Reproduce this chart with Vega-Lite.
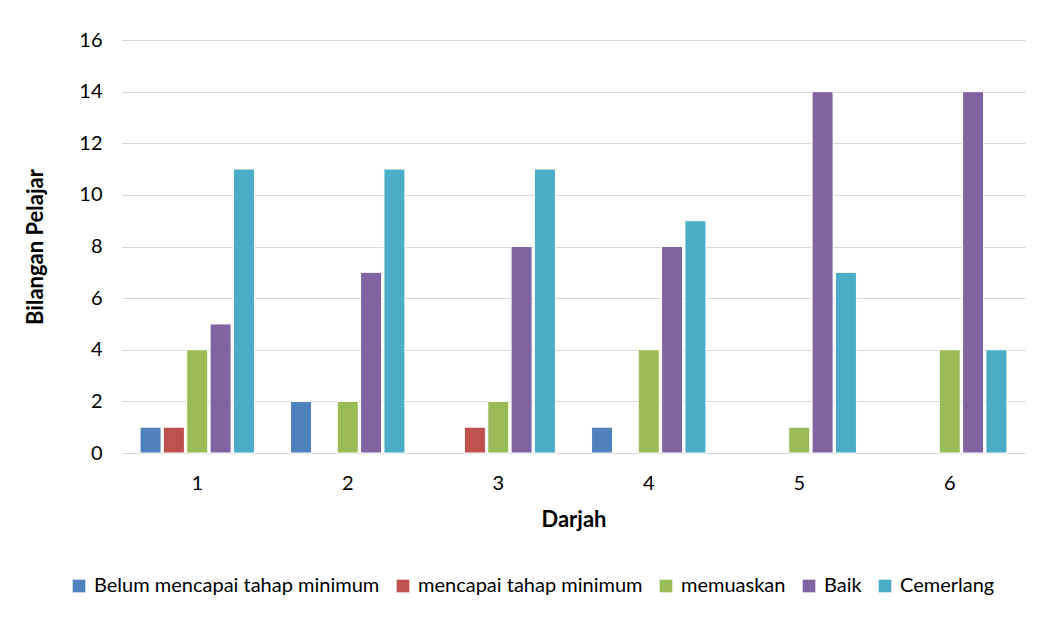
{
  "$schema": "https://vega.github.io/schema/vega-lite/v6.json",
  "width": 903,
  "height": 413,
  "padding": {"left": 24, "top": 30, "right": 10, "bottom": 5},
  "background": "white",
  "data": {
    "values": [
      {"Darjah": "1", "Tahap": "Belum mencapai tahap minimum", "Bilangan": 1},
      {"Darjah": "1", "Tahap": "mencapai tahap minimum", "Bilangan": 1},
      {"Darjah": "1", "Tahap": "memuaskan", "Bilangan": 4},
      {"Darjah": "1", "Tahap": "Baik", "Bilangan": 5},
      {"Darjah": "1", "Tahap": "Cemerlang", "Bilangan": 11},
      {"Darjah": "2", "Tahap": "Belum mencapai tahap minimum", "Bilangan": 2},
      {"Darjah": "2", "Tahap": "mencapai tahap minimum", "Bilangan": 0},
      {"Darjah": "2", "Tahap": "memuaskan", "Bilangan": 2},
      {"Darjah": "2", "Tahap": "Baik", "Bilangan": 7},
      {"Darjah": "2", "Tahap": "Cemerlang", "Bilangan": 11},
      {"Darjah": "3", "Tahap": "Belum mencapai tahap minimum", "Bilangan": 0},
      {"Darjah": "3", "Tahap": "mencapai tahap minimum", "Bilangan": 1},
      {"Darjah": "3", "Tahap": "memuaskan", "Bilangan": 2},
      {"Darjah": "3", "Tahap": "Baik", "Bilangan": 8},
      {"Darjah": "3", "Tahap": "Cemerlang", "Bilangan": 11},
      {"Darjah": "4", "Tahap": "Belum mencapai tahap minimum", "Bilangan": 1},
      {"Darjah": "4", "Tahap": "mencapai tahap minimum", "Bilangan": 0},
      {"Darjah": "4", "Tahap": "memuaskan", "Bilangan": 4},
      {"Darjah": "4", "Tahap": "Baik", "Bilangan": 8},
      {"Darjah": "4", "Tahap": "Cemerlang", "Bilangan": 9},
      {"Darjah": "5", "Tahap": "Belum mencapai tahap minimum", "Bilangan": 0},
      {"Darjah": "5", "Tahap": "mencapai tahap minimum", "Bilangan": 0},
      {"Darjah": "5", "Tahap": "memuaskan", "Bilangan": 1},
      {"Darjah": "5", "Tahap": "Baik", "Bilangan": 14},
      {"Darjah": "5", "Tahap": "Cemerlang", "Bilangan": 7},
      {"Darjah": "6", "Tahap": "Belum mencapai tahap minimum", "Bilangan": 0},
      {"Darjah": "6", "Tahap": "mencapai tahap minimum", "Bilangan": 0},
      {"Darjah": "6", "Tahap": "memuaskan", "Bilangan": 4},
      {"Darjah": "6", "Tahap": "Baik", "Bilangan": 14},
      {"Darjah": "6", "Tahap": "Cemerlang", "Bilangan": 4}
    ]
  },
  "transform": [{"filter": "datum.Bilangan > 0"}],
  "mark": {"type": "bar", "stroke": "white", "strokeWidth": 1},
  "encoding": {
    "x": {
      "field": "Darjah", "type": "nominal",
      "scale": {"domain": ["1", "2", "3", "4", "5", "6"], "paddingInner": 0.24, "paddingOuter": 0.12},
      "axis": {"title": "Darjah", "labelAngle": 0, "ticks": false, "domainColor": "#d9d9d9", "labelPadding": 20, "titlePadding": 16}
    },
    "xOffset": {
      "field": "Tahap", "type": "nominal",
      "sort": ["Belum mencapai tahap minimum", "mencapai tahap minimum", "memuaskan", "Baik", "Cemerlang"],
      "scale": {"domain": ["Belum mencapai tahap minimum", "mencapai tahap minimum", "memuaskan", "Baik", "Cemerlang"], "paddingInner": 0.1}
    },
    "y": {
      "field": "Bilangan", "type": "quantitative",
      "scale": {"domain": [0, 16]},
      "axis": {"title": "Bilangan Pelajar", "values": [0, 2, 4, 6, 8, 10, 12, 14, 16], "labelOverlap": false, "domain": false, "ticks": false, "gridColor": "#d9d9d9", "labelPadding": 20, "titlePadding": 31}
    },
    "color": {
      "field": "Tahap", "type": "nominal",
      "scale": {
        "domain": ["Belum mencapai tahap minimum", "mencapai tahap minimum", "memuaskan", "Baik", "Cemerlang"],
        "range": ["#4F81BD", "#C0504D", "#9BBB59", "#8064A2", "#4BACC6"]
      },
      "legend": {"title": null, "orient": "none", "legendX": -53, "legendY": 536, "direction": "horizontal", "symbolType": "square", "symbolSize": 160, "symbolStrokeWidth": 0, "columnPadding": 13, "labelOffset": 5}
    }
  },
  "config": {
    "font": "Lato",
    "view": {"stroke": null},
    "axis": {"labelFont": "Lato", "labelFontSize": 20, "labelColor": "#000", "titleFont": "Lato", "titleFontSize": 22, "titleFontWeight": "bold", "titleColor": "#000"},
    "legend": {"labelFont": "Lato", "labelFontSize": 20, "labelColor": "#000", "labelLimit": 400}
  }
}
